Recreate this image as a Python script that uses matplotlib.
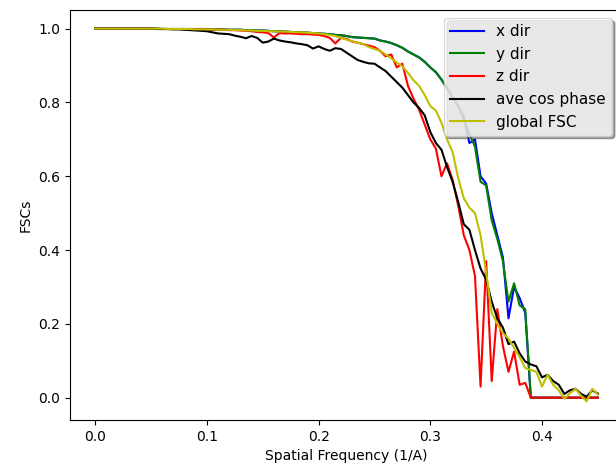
import numpy as np
import matplotlib.pyplot as plt

# spatial frequency grid, 0 to 0.45 in steps of 0.005
freq = np.round(np.arange(91) * 0.005, 3)

x_dir = [1.000, 1.000, 1.000, 1.000, 1.000, 1.000, 1.000, 1.000, 1.000, 1.000,
         1.000, 1.000, 0.999, 0.999, 0.999, 0.999, 0.999, 0.999, 0.999, 0.999,
         0.999, 0.998, 0.998, 0.998, 0.997, 0.997, 0.997, 0.996, 0.996, 0.995,
         0.995, 0.994, 0.993, 0.993, 0.992, 0.991, 0.990, 0.990, 0.989, 0.988,
         0.987, 0.986, 0.985, 0.983, 0.982, 0.980, 0.977, 0.976, 0.975, 0.974,
         0.973, 0.968, 0.965, 0.961, 0.955, 0.948, 0.938, 0.930, 0.922, 0.910,
         0.895, 0.882, 0.862, 0.838, 0.815, 0.790, 0.760, 0.690, 0.700, 0.600,
         0.580, 0.500, 0.440, 0.380, 0.215, 0.300, 0.270, 0.230, 0.000, 0.000,
         0.000, 0.000, 0.000, 0.000, 0.000, 0.000, 0.000, 0.000, 0.000, 0.000,
         0.000]

y_dir = [1.000, 1.000, 1.000, 1.000, 1.000, 1.000, 1.000, 1.000, 1.000, 1.000,
         1.000, 1.000, 0.999, 0.999, 0.999, 0.999, 0.999, 0.999, 0.999, 0.999,
         0.999, 0.998, 0.998, 0.998, 0.997, 0.997, 0.997, 0.996, 0.996, 0.995,
         0.995, 0.994, 0.993, 0.993, 0.992, 0.991, 0.990, 0.990, 0.989, 0.988,
         0.987, 0.986, 0.985, 0.983, 0.982, 0.980, 0.977, 0.976, 0.975, 0.974,
         0.973, 0.968, 0.965, 0.961, 0.955, 0.948, 0.938, 0.930, 0.922, 0.910,
         0.895, 0.882, 0.862, 0.838, 0.815, 0.790, 0.755, 0.715, 0.680, 0.585,
         0.575, 0.480, 0.430, 0.370, 0.260, 0.310, 0.250, 0.240, 0.000, 0.000,
         0.000, 0.000, 0.000, 0.000, 0.000, 0.000, 0.000, 0.000, 0.000, 0.000,
         0.000]

z_dir = [1.000, 1.000, 1.000, 1.000, 1.000, 1.000, 1.000, 1.000, 1.000, 1.000,
         1.000, 0.999, 0.999, 0.999, 0.999, 0.999, 0.998, 0.998, 0.998, 0.998,
         0.998, 0.997, 0.997, 0.997, 0.996, 0.996, 0.995, 0.994, 0.993, 0.991,
         0.990, 0.988, 0.976, 0.988, 0.987, 0.987, 0.986, 0.985, 0.985, 0.984,
         0.983, 0.980, 0.975, 0.960, 0.975, 0.972, 0.965, 0.962, 0.958, 0.954,
         0.950, 0.940, 0.925, 0.930, 0.895, 0.905, 0.845, 0.810, 0.780, 0.740,
         0.700, 0.675, 0.600, 0.635, 0.590, 0.520, 0.440, 0.400, 0.330, 0.030,
         0.370, 0.045, 0.240, 0.140, 0.070, 0.125, 0.035, 0.040, 0.000, 0.000,
         0.000, 0.000, 0.000, 0.000, 0.000, 0.000, 0.000, 0.000, 0.000, 0.000,
         0.000]

ave_cos = [1.000, 1.000, 1.000, 1.000, 1.000, 1.000, 1.000, 1.000, 1.000, 1.000,
           1.000, 0.999, 0.999, 0.999, 0.998, 0.998, 0.997, 0.996, 0.995, 0.994,
           0.993, 0.990, 0.987, 0.986, 0.985, 0.981, 0.978, 0.974, 0.980, 0.975,
           0.962, 0.965, 0.973, 0.968, 0.965, 0.963, 0.960, 0.958, 0.955, 0.946,
           0.952, 0.945, 0.940, 0.947, 0.945, 0.935, 0.925, 0.915, 0.910, 0.906,
           0.905, 0.895, 0.885, 0.870, 0.855, 0.840, 0.820, 0.800, 0.785, 0.765,
           0.720, 0.690, 0.672, 0.625, 0.585, 0.530, 0.470, 0.455, 0.400, 0.350,
           0.320, 0.260, 0.215, 0.190, 0.145, 0.152, 0.120, 0.098, 0.090, 0.085,
           0.055, 0.062, 0.045, 0.035, 0.010, 0.020, 0.024, 0.010, 0.003, 0.020,
           0.011]

global_fsc = [1.000, 1.000, 1.000, 1.000, 1.000, 1.000, 1.000, 1.000, 1.000, 1.000,
              1.000, 1.000, 1.000, 0.999, 0.999, 0.999, 0.999, 0.999, 0.998, 0.998,
              0.998, 0.998, 0.997, 0.997, 0.997, 0.996, 0.996, 0.995, 0.995, 0.994,
              0.994, 0.993, 0.993, 0.992, 0.992, 0.991, 0.990, 0.990, 0.989, 0.988,
              0.987, 0.985, 0.983, 0.980, 0.975, 0.970, 0.966, 0.962, 0.958, 0.950,
              0.945, 0.940, 0.930, 0.920, 0.908, 0.898, 0.880, 0.860, 0.845, 0.820,
              0.790, 0.778, 0.745, 0.700, 0.665, 0.595, 0.540, 0.515, 0.500, 0.440,
              0.340, 0.230, 0.200, 0.175, 0.160, 0.135, 0.110, 0.080, 0.075, 0.070,
              0.030, 0.062, 0.035, 0.020, -0.003, 0.012, 0.024, 0.005, -0.010, 0.024,
              0.008]

fig = plt.figure(figsize=(6.16, 4.68), dpi=100)
ax = fig.add_axes([70 / 616, 48 / 468, 553 / 616, 410 / 468])

ax.plot(freq, x_dir, color='b', lw=1.5, label='x dir')
ax.plot(freq, y_dir, color='g', lw=1.5, label='y dir')
ax.plot(freq, z_dir, color='r', lw=1.5, label='z dir')
ax.plot(freq, ave_cos, color='k', lw=1.5, label='ave cos phase')
ax.plot(freq, global_fsc, color='y', lw=1.5, label='global FSC')

ax.set_xticks([0.0, 0.1, 0.2, 0.3, 0.4])
ax.set_yticks([0.0, 0.2, 0.4, 0.6, 0.8, 1.0])
ax.set_xlabel('Spatial Frequency (1/A)')
ax.set_ylabel('FSCs')

ax.legend(loc='upper right', bbox_to_anchor=(612 / 616, 1 - 18 / 468),
          bbox_transform=fig.transFigure, borderaxespad=0,
          shadow=True, framealpha=0.75, fontsize=11, labelspacing=0.5,
          handlelength=2.2)

fig.savefig('out.png', dpi=100)
